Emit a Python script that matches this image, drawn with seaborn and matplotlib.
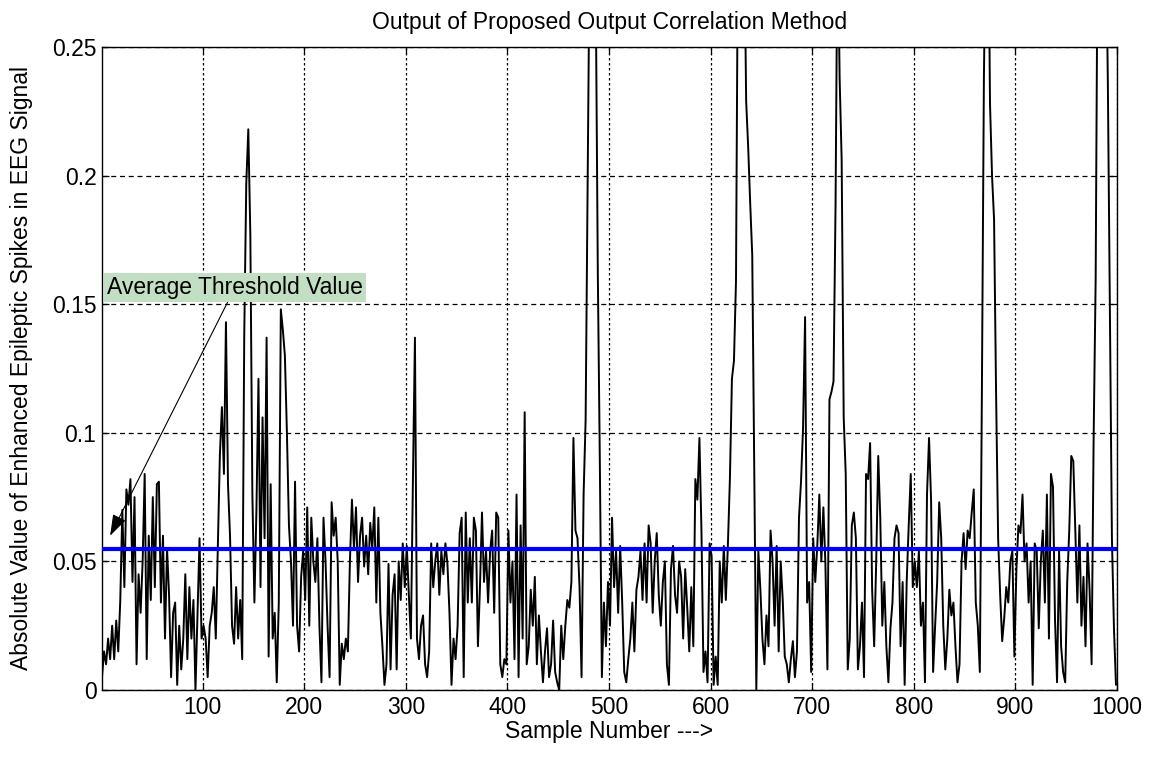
import numpy as np
import pandas as pd
import matplotlib
matplotlib.use("Agg")
import matplotlib.pyplot as plt
import seaborn as sns

# Rectified, enhanced EEG output, one reading every second sample (1, 3, 5, ..., 999)
sample_start = 1
sample_step = 2

block_000 = [0.005, 0.015, 0.01, 0.02, 0.012, 0.025, 0.012, 0.027, 0.015, 0.035,
             0.07, 0.04, 0.078, 0.072, 0.082, 0.042, 0.075, 0.01, 0.045, 0.03,
             0.05, 0.084, 0.012, 0.06, 0.035, 0.075, 0.04, 0.08, 0.081, 0.034,
             0.06, 0.02, 0.055, 0.037, 0.005, 0.03, 0.034, 0.002, 0.025, 0.008,
             0.02, 0.045, 0.012, 0.04, 0.02, 0.035, 0.0, 0.03, 0.059, 0.02]
block_100 = [0.025, 0.02, 0.005, 0.025, 0.03, 0.04, 0.02, 0.055, 0.091, 0.11,
             0.084, 0.143, 0.08, 0.06, 0.025, 0.018, 0.04, 0.02, 0.035, 0.012,
             0.138, 0.197, 0.218, 0.177, 0.076, 0.034, 0.07, 0.121, 0.04, 0.106,
             0.059, 0.137, 0.013, 0.08, 0.02, 0.03, 0.003, 0.034, 0.148, 0.14,
             0.13, 0.1, 0.064, 0.05, 0.025, 0.081, 0.025, 0.015, 0.044, 0.054]
block_200 = [0.035, 0.071, 0.025, 0.067, 0.05, 0.042, 0.059, 0.025, 0.003, 0.067,
             0.05, 0.025, 0.005, 0.073, 0.06, 0.067, 0.05, 0.002, 0.018, 0.012,
             0.02, 0.015, 0.05, 0.074, 0.055, 0.071, 0.042, 0.06, 0.067, 0.048,
             0.06, 0.045, 0.065, 0.055, 0.071, 0.034, 0.067, 0.03, 0.017, 0.002,
             0.01, 0.049, 0.008, 0.037, 0.045, 0.008, 0.05, 0.035, 0.057, 0.04]
block_300 = [0.056, 0.037, 0.02, 0.081, 0.137, 0.02, 0.012, 0.025, 0.029, 0.01,
             0.005, 0.015, 0.057, 0.04, 0.05, 0.057, 0.037, 0.054, 0.045, 0.057,
             0.049, 0.03, 0.002, 0.02, 0.012, 0.025, 0.061, 0.067, 0.005, 0.069,
             0.034, 0.059, 0.034, 0.067, 0.062, 0.017, 0.04, 0.069, 0.042, 0.054,
             0.034, 0.054, 0.062, 0.03, 0.069, 0.067, 0.01, 0.005, 0.012, 0.01]
block_400 = [0.062, 0.034, 0.05, 0.012, 0.076, 0.005, 0.064, 0.02, 0.108, 0.01,
             0.017, 0.039, 0.025, 0.044, 0.01, 0.029, 0.015, 0.003, 0.015, 0.024,
             0.005, 0.01, 0.027, 0.007, 0.003, 0.0, 0.025, 0.012, 0.025, 0.035,
             0.032, 0.042, 0.098, 0.062, 0.059, 0.04, 0.005, 0.076, 0.105, 0.2,
             0.29, 0.32, 0.3, 0.27, 0.162, 0.088, 0.005, 0.034, 0.017, 0.042]
block_500 = [0.025, 0.067, 0.04, 0.054, 0.03, 0.056, 0.034, 0.007, 0.003, 0.012,
             0.02, 0.034, 0.015, 0.039, 0.044, 0.054, 0.035, 0.057, 0.034, 0.064,
             0.057, 0.03, 0.05, 0.061, 0.037, 0.025, 0.042, 0.05, 0.01, 0.002,
             0.047, 0.056, 0.037, 0.03, 0.05, 0.044, 0.02, 0.047, 0.032, 0.015,
             0.04, 0.017, 0.082, 0.074, 0.098, 0.062, 0.007, 0.015, 0.003, 0.057]
block_600 = [0.052, 0.002, 0.013, 0.002, 0.05, 0.034, 0.056, 0.035, 0.056, 0.082,
             0.121, 0.128, 0.159, 0.3, 0.33, 0.34, 0.3, 0.229, 0.211, 0.189,
             0.169, 0.084, 0.0, 0.054, 0.039, 0.02, 0.01, 0.029, 0.017, 0.062,
             0.05, 0.025, 0.056, 0.015, 0.05, 0.035, 0.013, 0.01, 0.003, 0.012,
             0.019, 0.005, 0.015, 0.067, 0.081, 0.102, 0.145, 0.034, 0.042, 0.007]
block_700 = [0.059, 0.042, 0.056, 0.076, 0.05, 0.071, 0.049, 0.008, 0.113, 0.116,
             0.12, 0.189, 0.3, 0.238, 0.206, 0.106, 0.084, 0.008, 0.02, 0.064,
             0.069, 0.059, 0.008, 0.017, 0.034, 0.005, 0.084, 0.082, 0.096, 0.039,
             0.017, 0.05, 0.091, 0.067, 0.025, 0.042, 0.017, 0.003, 0.024, 0.034,
             0.059, 0.064, 0.061, 0.017, 0.042, 0.002, 0.042, 0.064, 0.084, 0.04]
block_800 = [0.05, 0.04, 0.054, 0.025, 0.034, 0.003, 0.076, 0.098, 0.074, 0.007,
             0.025, 0.042, 0.073, 0.059, 0.025, 0.008, 0.02, 0.039, 0.029, 0.034,
             0.017, 0.003, 0.01, 0.05, 0.061, 0.047, 0.062, 0.059, 0.069, 0.078,
             0.034, 0.025, 0.007, 0.115, 0.238, 0.3, 0.32, 0.228, 0.2, 0.183,
             0.115, 0.059, 0.037, 0.019, 0.028, 0.04, 0.034, 0.05, 0.054, 0.013]
block_900 = [0.047, 0.064, 0.061, 0.076, 0.05, 0.057, 0.034, 0.05, 0.002, 0.057,
             0.054, 0.024, 0.05, 0.062, 0.034, 0.076, 0.02, 0.084, 0.079, 0.027,
             0.003, 0.054, 0.017, 0.007, 0.003, 0.042, 0.062, 0.091, 0.089, 0.061,
             0.034, 0.064, 0.025, 0.044, 0.017, 0.057, 0.039, 0.01, 0.098, 0.16,
             0.3, 0.33, 0.35, 0.33, 0.3, 0.236, 0.147, 0.059, 0.024, 0.002]

signal_values = (block_000 + block_100 + block_200 + block_300 + block_400 +
                 block_500 + block_600 + block_700 + block_800 + block_900)
sample_numbers = np.arange(sample_start, sample_start + sample_step * len(signal_values), sample_step)

threshold_value = 0.055

x_ticks = [100, 200, 300, 400, 500, 600, 700, 800, 900, 1000]
y_ticks = [0, 0.05, 0.1, 0.15, 0.2, 0.25]
y_tick_labels = ["0", "0.05", "0.1", "0.15", "0.2", "0.25"]

title_text = "Output of Proposed Output Correlation Method"
x_label_text = "Sample Number --->"
y_label_text = "Absolute Value of Enhanced Epileptic Spikes in EEG Signal"
note_text = "Average Threshold Value"

sns.set_theme(style="white")
plt.rcParams["font.family"] = ["Liberation Sans", "DejaVu Sans"]

fig = plt.figure(figsize=(11.54, 7.6), dpi=100)
fig.patch.set_facecolor("white")
ax = fig.add_axes([102 / 1154, 70 / 760, 1015 / 1154, 643 / 760])

df = pd.DataFrame({"sample": sample_numbers, "value": signal_values})
sns.lineplot(data=df, x="sample", y="value", ax=ax, color="black",
             linewidth=1.4, estimator=None, sort=False, zorder=3)

ax.axhline(threshold_value, color=(0, 0, 1), linewidth=3, zorder=4)

ax.set_xlim(1, 1000)
ax.set_ylim(0, 0.25)
ax.set_xticks(x_ticks)
ax.set_yticks(y_ticks)
ax.set_yticklabels(y_tick_labels)

# grid: dashed horizontals, dotted verticals
ax.yaxis.grid(True, color="black", linestyle=(0, (4, 3)), linewidth=0.9)
ax.xaxis.grid(True, color="black", linestyle=(0, (2, 2)), linewidth=0.9)
ax.set_axisbelow(True)

for side in ["top", "bottom", "left", "right"]:
    ax.spines[side].set_visible(True)
    ax.spines[side].set_color("black")
    ax.spines[side].set_linewidth(1.0)

ax.tick_params(axis="both", which="both", direction="in", length=5, width=0.9,
               top=True, right=True, bottom=True, left=True,
               labelsize=16.5, colors="black", pad=4)

ax.set_title(title_text, fontsize=16.5, color="black", pad=13)
ax.set_xlabel(x_label_text, fontsize=16.5, color="black", labelpad=1)
ax.set_ylabel(y_label_text, fontsize=16.5, color="black")
ax.yaxis.set_label_coords(-0.068, 0.5)

ax.annotate(note_text, xy=(9, 0.06), xytext=(6, 0.1565),
            ha="left", va="center", fontsize=16.5, color="black",
            bbox=dict(boxstyle="square,pad=0.15", fc="#c3dfc3", ec="none"),
            arrowprops=dict(arrowstyle="-|>,head_length=0.65,head_width=0.22",
                            color="black", lw=0.8, mutation_scale=20,
                            shrinkA=0, shrinkB=0),
            zorder=6)

fig.savefig("out.png", dpi=100, facecolor="white")
